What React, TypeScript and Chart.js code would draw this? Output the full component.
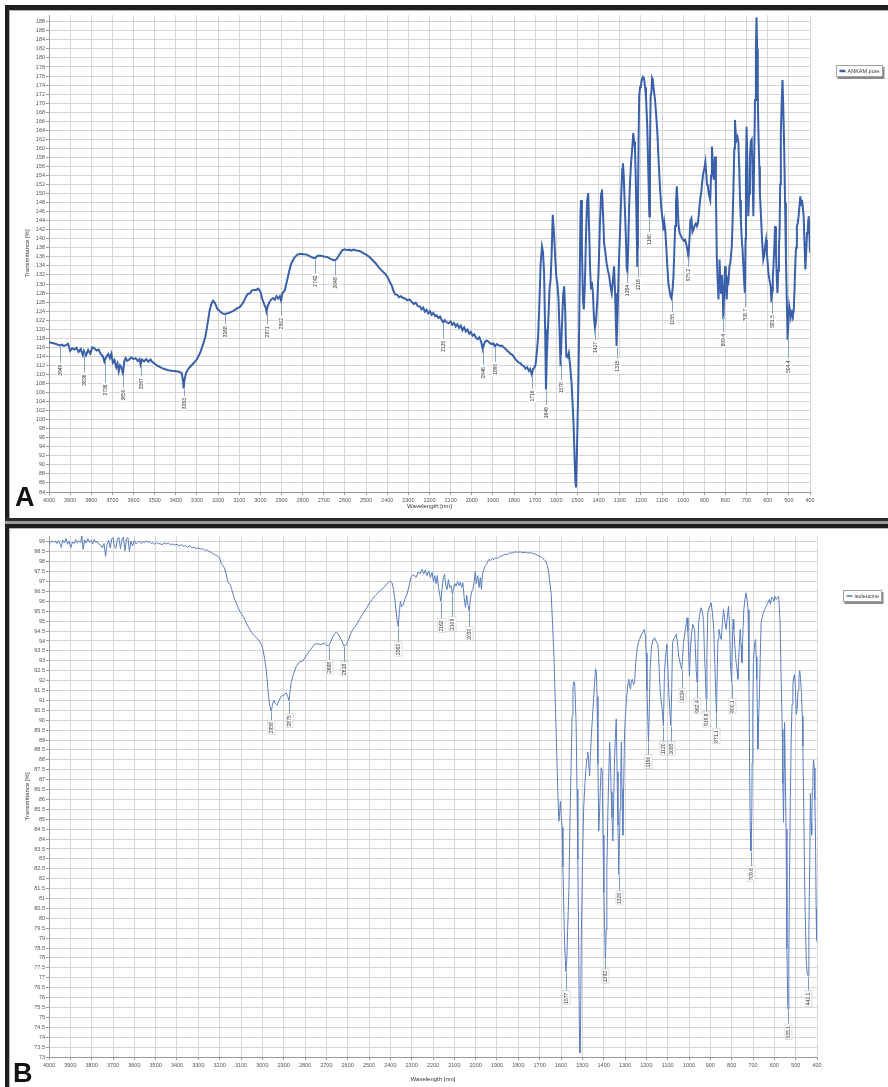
import React, { useEffect, useRef } from "react";
import { Chart, registerables } from "chart.js";

Chart.register(...registerables);

const FONT = "'Liberation Sans', Arial, sans-serif";

// ---------- Panel A: ANKAM pure ----------
const seriesNameA = "ANKAM pure";
const spectrumA: [number, number][] = [
  [4000, 117.2], [3990, 117.0], [3980, 116.9], [3970, 116.8], [3960, 116.6], [3950, 116.4], [3940, 116.6],
  [3930, 116.3], [3920, 116.5], [3910, 116.8], [3905, 116.0], [3900, 115.2], [3890, 115.8], [3880, 115.5],
  [3870, 115.9], [3860, 115.0], [3850, 115.6], [3840, 114.3], [3835, 115.2], [3825, 114.2], [3815, 115.4],
  [3805, 114.6], [3795, 116.0], [3785, 115.8], [3775, 115.3], [3765, 115.5], [3755, 114.5], [3745, 114.0],
  [3738, 112.8], [3730, 113.8], [3720, 114.5], [3712, 113.6], [3705, 114.6], [3698, 112.6], [3690, 113.2],
  [3682, 111.6], [3676, 112.4], [3670, 110.7], [3664, 112.0], [3658, 111.6], [3650, 110.3], [3644, 112.8],
  [3638, 113.6], [3630, 113.0], [3620, 113.3], [3610, 113.8], [3600, 113.4], [3590, 113.6], [3580, 113.0],
  [3572, 113.4], [3567, 112.2], [3560, 113.3], [3550, 112.9], [3540, 113.4], [3530, 112.8], [3520, 113.3],
  [3510, 112.7], [3500, 112.4], [3490, 112.0], [3480, 111.8], [3470, 111.5], [3460, 111.3], [3440, 111.0],
  [3420, 110.8], [3400, 110.7], [3385, 110.6], [3372, 110.3], [3366, 108.5], [3363, 106.9], [3359, 108.8],
  [3352, 110.3], [3340, 111.3], [3320, 112.3], [3300, 113.4], [3285, 114.8], [3270, 116.8], [3260, 118.4],
  [3250, 121.2], [3240, 124.2], [3230, 125.8], [3224, 126.3], [3215, 125.8], [3205, 124.6], [3190, 123.9],
  [3180, 123.5], [3168, 123.4], [3150, 123.6], [3130, 124.0], [3110, 124.6], [3095, 125.0], [3080, 126.0],
  [3070, 127.0], [3060, 127.8], [3050, 127.9], [3040, 128.6], [3030, 128.7], [3020, 128.7], [3010, 129.0],
  [3000, 128.3], [2992, 126.8], [2982, 125.5], [2975, 124.8], [2971, 123.9], [2966, 125.0], [2958, 125.9],
  [2950, 126.5], [2940, 126.9], [2932, 126.5], [2924, 127.3], [2916, 126.8], [2908, 127.3], [2902, 126.3],
  [2896, 128.0], [2885, 128.5], [2875, 130.5], [2865, 132.6], [2855, 134.4], [2840, 135.8], [2825, 136.5],
  [2810, 136.7], [2795, 136.6], [2780, 136.5], [2765, 136.1], [2750, 135.8], [2742, 135.7], [2730, 136.2],
  [2718, 136.3], [2700, 136.1], [2685, 136.0], [2670, 135.6], [2655, 135.3], [2648, 135.2], [2638, 135.6],
  [2625, 136.6], [2612, 137.5], [2600, 137.7], [2590, 137.5], [2580, 137.6], [2570, 137.4], [2560, 137.6],
  [2545, 137.4], [2530, 137.3], [2515, 136.9], [2500, 136.5], [2485, 136.0], [2470, 135.3], [2455, 134.6],
  [2440, 133.7], [2425, 132.9], [2410, 132.3], [2398, 131.5], [2388, 130.5], [2378, 129.6], [2370, 128.4],
  [2362, 127.7], [2352, 127.6], [2344, 127.1], [2335, 127.3], [2325, 126.9], [2315, 126.8], [2305, 126.4],
  [2295, 126.6], [2285, 126.1], [2275, 125.6], [2265, 125.9], [2255, 125.1], [2245, 125.0], [2238, 124.4],
  [2230, 124.8], [2222, 123.9], [2214, 124.3], [2206, 123.5], [2198, 124.0], [2190, 123.2], [2182, 123.6],
  [2174, 122.9], [2166, 123.1], [2158, 122.5], [2150, 122.8], [2143, 122.1], [2135, 121.5], [2128, 122.0],
  [2120, 121.6], [2110, 121.3], [2100, 121.7], [2092, 121.0], [2084, 121.4], [2076, 120.6], [2068, 121.1],
  [2060, 120.3], [2052, 120.8], [2044, 119.8], [2036, 120.4], [2028, 119.5], [2020, 119.9], [2012, 119.0],
  [2004, 119.4], [1996, 118.6], [1988, 118.9], [1980, 118.1], [1972, 117.8], [1964, 118.2], [1956, 117.3],
  [1948, 115.6], [1944, 116.4], [1938, 117.2], [1930, 117.5], [1922, 117.3], [1914, 116.9], [1906, 116.7],
  [1898, 116.9], [1890, 116.2], [1882, 116.7], [1874, 116.5], [1866, 116.3], [1858, 116.4], [1850, 116.1],
  [1842, 115.7], [1834, 115.3], [1826, 115.0], [1818, 114.6], [1810, 114.4], [1802, 114.0], [1794, 113.4],
  [1786, 113.0], [1778, 112.6], [1770, 112.5], [1762, 112.0], [1754, 111.9], [1746, 111.3], [1738, 111.6],
  [1730, 110.8], [1724, 111.2], [1716, 110.0], [1710, 111.2], [1704, 111.5], [1698, 112.2], [1692, 115.0],
  [1686, 118.5], [1680, 126.0], [1674, 134.7], [1668, 138.3], [1663, 137.0], [1658, 132.5], [1653, 120.0],
  [1649, 106.7], [1645, 114.0], [1639, 121.0], [1632, 129.0], [1627, 131.0], [1622, 137.0], [1617, 145.3],
  [1612, 142.0], [1606, 136.5], [1600, 131.5], [1595, 130.0], [1590, 127.0], [1585, 120.0], [1580, 111.8],
  [1574, 120.0], [1568, 127.5], [1563, 129.5], [1558, 124.0], [1553, 114.0], [1547, 113.8], [1541, 114.8],
  [1535, 112.0], [1528, 108.2], [1523, 103.5], [1518, 98.5], [1514, 92.0], [1510, 86.5], [1507, 85.0],
  [1503, 92.0], [1499, 101.0], [1495, 110.0], [1490, 128.0], [1486, 145.0], [1483, 148.6], [1479, 138.0],
  [1474, 126.5], [1470, 124.4], [1465, 130.0], [1459, 142.0], [1454, 148.5], [1449, 150.1], [1445, 142.0],
  [1440, 133.0], [1436, 129.0], [1432, 130.5], [1427, 128.0], [1422, 122.5], [1417, 120.3], [1412, 122.0],
  [1406, 126.5], [1400, 133.0], [1394, 143.0], [1388, 150.0], [1384, 150.9], [1379, 145.5], [1374, 139.0],
  [1368, 137.0], [1362, 134.5], [1356, 133.0], [1350, 131.8], [1344, 129.5], [1338, 128.0], [1332, 131.0],
  [1327, 133.9], [1322, 128.0], [1318, 121.0], [1315, 116.3], [1311, 122.0], [1305, 133.0], [1299, 141.3],
  [1293, 149.5], [1288, 155.5], [1285, 156.7], [1281, 154.0], [1276, 147.0], [1271, 140.5], [1267, 133.5],
  [1264, 132.8], [1260, 138.0], [1256, 146.5], [1251, 153.0], [1246, 157.0], [1241, 160.0], [1236, 163.4],
  [1232, 161.5], [1228, 160.0], [1224, 153.0], [1220, 142.0], [1217, 134.0], [1214, 146.0], [1211, 162.0],
  [1208, 171.5], [1204, 173.5], [1200, 173.8], [1196, 175.1], [1190, 175.8], [1185, 175.5], [1180, 173.5],
  [1176, 171.5], [1170, 165.0], [1165, 155.0], [1160, 145.0], [1157, 160.0], [1154, 171.5], [1150, 172.5],
  [1147, 175.5], [1144, 175.1], [1139, 173.0], [1133, 170.7], [1127, 167.0], [1122, 163.4], [1116, 157.0],
  [1110, 151.6], [1105, 148.0], [1101, 145.7], [1096, 143.5], [1092, 141.8], [1089, 143.5], [1085, 142.0],
  [1080, 138.3], [1075, 134.0], [1070, 130.2], [1065, 128.7], [1060, 127.3], [1055, 126.8], [1050, 129.0],
  [1046, 131.7], [1042, 137.0], [1038, 142.8], [1034, 148.0], [1030, 151.6], [1026, 147.5], [1022, 143.0],
  [1016, 141.2], [1010, 140.6], [1004, 140.0], [998, 139.6], [991, 139.8], [985, 138.8], [980, 137.5],
  [975, 136.1], [970, 140.0], [966, 144.0], [961, 144.5], [956, 141.5], [951, 142.0], [945, 143.0],
  [940, 143.4], [935, 142.8], [930, 143.5], [925, 146.0], [920, 148.6], [914, 150.5], [909, 153.0],
  [905, 154.5], [900, 155.5], [895, 157.0], [891, 154.5], [887, 152.0], [883, 151.6], [879, 150.0],
  [875, 149.2], [872, 148.6], [868, 154.0], [864, 160.4], [860, 157.0], [856, 153.1], [852, 155.0],
  [849, 158.2], [845, 150.0], [841, 136.1], [837, 131.0], [833, 126.6], [830, 131.0], [828, 135.4],
  [825, 131.5], [821, 128.0], [817, 132.0], [813, 128.5], [810, 122.2], [806, 128.0], [802, 133.9],
  [798, 130.0], [794, 126.6], [790, 131.0], [786, 130.5], [781, 133.9], [776, 135.0], [770, 138.3],
  [766, 144.0], [762, 151.6], [758, 160.0], [755, 166.3], [751, 163.0], [747, 161.9], [743, 162.5],
  [739, 161.5], [735, 156.0], [731, 148.6], [727, 144.0], [723, 140.0], [719, 137.6], [714, 133.0],
  [711, 130.0], [708, 128.0], [705, 140.0], [703, 155.0], [700, 164.8], [696, 156.0], [692, 145.0],
  [688, 150.0], [684, 158.2], [680, 161.5], [676, 161.9], [672, 155.0], [668, 145.0], [664, 158.0],
  [660, 170.7], [656, 182.0], [653, 189.0], [650, 182.0], [647, 172.0], [644, 163.4], [640, 156.0],
  [637, 150.1], [632, 145.0], [627, 140.0], [621, 135.4], [616, 136.5], [612, 138.5], [608, 139.8],
  [604, 137.0], [600, 134.5], [597, 132.5], [592, 131.0], [586, 129.5], [582, 126.0], [579, 128.5],
  [576, 131.5], [573, 133.9], [569, 138.0], [565, 142.8], [561, 137.0], [557, 131.0], [554, 128.0],
  [550, 133.0], [547, 138.0], [544, 141.3], [541, 152.0], [538, 163.4], [534, 170.0], [530, 175.1],
  [527, 170.0], [522, 159.7], [518, 148.0], [514, 136.1], [510, 127.0], [506, 117.7], [502, 121.5],
  [498, 125.1], [494, 124.0], [490, 122.9], [485, 123.8], [481, 123.2], [477, 124.0], [473, 129.0],
  [470, 133.9], [466, 138.0], [462, 142.8], [458, 143.5], [454, 145.0], [450, 147.0], [446, 149.4],
  [442, 147.5], [438, 148.6], [434, 147.0], [430, 145.0], [426, 139.0], [422, 133.2], [418, 137.0],
  [414, 141.3], [410, 143.0], [406, 145.0], [402, 140.0], [400, 136.9],
];
const peakWavenumbersA = [3949, 3836, 3736, 3650, 3567, 3363, 3168, 2971, 2902, 2742, 2648, 2135, 1946, 1890,
  1716, 1649, 1578, 1417, 1315, 1264, 1216, 1160, 1055, 975.2, 809.4, 708.7, 581.5, 504.4];
const peakTextsA = ["3949", "3836", "3736", "3650", "3567", "3363", "3168", "2971", "2902", "2742", "2648", "2135",
  "1946", "1890", "1716", "1649", "1578", "1417", "1315", "1264", "1216", "1160", "1055", "975.2", "809.4",
  "708.7", "581.5", "504.4"];
const peakLabelLevelsA = [112.4, 110.2, 108.0, 106.9, 109.4, 105.0, 120.9, 120.9, 122.7, 132.1, 131.7, 117.7,
  111.8, 112.6, 106.7, 103.0, 108.5, 117.4, 113.3, 130.0, 131.3, 141.3, 123.6, 133.6, 119.2, 124.7, 123.3, 113.3];

// ---------- Panel B: isoleucine ----------
const seriesNameB = "isoleucine";
const spectrumB: [number, number][] = [
  [4000, 99.02], [3992, 98.95], [3985, 99.06], [3978, 98.98], [3970, 99.05], [3962, 98.92], [3955, 99.08],
  [3948, 98.90], [3942, 98.72], [3936, 99.10], [3928, 98.96], [3920, 99.18], [3913, 98.88], [3905, 99.04],
  [3898, 98.70], [3890, 99.00], [3882, 98.92], [3875, 99.12], [3868, 98.95], [3860, 99.05], [3852, 98.98],
  [3846, 99.30], [3840, 98.62], [3833, 99.10], [3826, 98.94], [3818, 99.16], [3810, 98.98], [3802, 99.08],
  [3795, 98.90], [3788, 99.12], [3780, 98.96], [3773, 99.02], [3766, 98.88], [3758, 98.84], [3750, 98.70],
  [3742, 98.92], [3735, 98.28], [3728, 98.88], [3720, 99.08], [3713, 98.70], [3706, 99.15], [3700, 99.22],
  [3693, 98.76], [3686, 98.68], [3679, 99.18], [3672, 99.22], [3665, 98.66], [3658, 99.10], [3651, 99.24],
  [3644, 98.55], [3637, 99.15], [3630, 99.22], [3623, 98.52], [3616, 99.05], [3608, 98.80], [3600, 99.08],
  [3592, 98.90], [3584, 98.98], [3576, 99.04], [3568, 98.92], [3560, 99.02], [3552, 98.96], [3544, 99.06],
  [3536, 98.98], [3528, 99.02], [3520, 98.92], [3512, 98.96], [3504, 98.88], [3496, 98.98], [3488, 98.90],
  [3480, 98.92], [3470, 98.86], [3460, 98.96], [3450, 98.90], [3440, 98.94], [3430, 98.86], [3420, 98.90],
  [3410, 98.84], [3400, 98.88], [3390, 98.80], [3380, 98.86], [3370, 98.78], [3360, 98.82], [3350, 98.74],
  [3340, 98.80], [3330, 98.70], [3320, 98.74], [3310, 98.66], [3300, 98.70], [3290, 98.64], [3280, 98.66],
  [3270, 98.58], [3260, 98.60], [3250, 98.52], [3240, 98.48], [3230, 98.40], [3220, 98.34], [3210, 98.28],
  [3200, 98.20], [3192, 97.90], [3185, 97.80], [3178, 97.70], [3170, 97.40], [3162, 96.98], [3153, 96.90],
  [3145, 96.66], [3138, 96.40], [3130, 96.12], [3122, 95.92], [3114, 95.70], [3106, 95.50], [3098, 95.38],
  [3090, 95.24], [3080, 95.02], [3070, 94.80], [3060, 94.60], [3050, 94.42], [3040, 94.30], [3028, 94.16],
  [3016, 94.02], [3005, 93.84], [2997, 93.56], [2989, 93.10], [2981, 92.50], [2974, 91.60], [2968, 90.90],
  [2962, 90.60], [2958, 90.45], [2953, 90.75], [2947, 91.00], [2940, 90.86], [2931, 90.76], [2922, 91.00],
  [2911, 91.22], [2900, 91.26], [2888, 91.38], [2881, 91.20], [2875, 90.98], [2869, 91.55], [2865, 91.90],
  [2855, 92.30], [2841, 92.72], [2825, 92.95], [2810, 93.00], [2795, 93.25], [2778, 93.50], [2765, 93.70],
  [2755, 93.84], [2740, 93.86], [2724, 93.82], [2710, 93.90], [2700, 93.80], [2688, 93.74], [2680, 93.96],
  [2665, 94.30], [2653, 94.46], [2642, 94.30], [2630, 94.06], [2618, 93.76], [2606, 93.82], [2595, 94.10],
  [2585, 94.40], [2575, 94.60], [2560, 94.80], [2544, 95.10], [2530, 95.36], [2515, 95.60], [2497, 95.92],
  [2485, 96.10], [2470, 96.30], [2450, 96.52], [2430, 96.70], [2411, 96.96], [2400, 97.02], [2392, 96.94],
  [2385, 96.60], [2378, 96.00], [2370, 95.20], [2363, 94.72], [2358, 95.40], [2353, 96.00], [2346, 95.72],
  [2340, 95.80], [2333, 96.10], [2322, 96.34], [2312, 96.80], [2302, 97.26], [2290, 97.34], [2280, 97.20],
  [2270, 97.48], [2260, 97.40], [2252, 97.62], [2244, 97.38], [2236, 97.58], [2228, 97.30], [2220, 97.54],
  [2212, 97.20], [2204, 97.46], [2198, 97.00], [2192, 97.30], [2186, 96.90], [2180, 97.30], [2174, 96.70],
  [2168, 96.30], [2163, 96.00], [2158, 96.60], [2152, 97.20], [2146, 97.36], [2140, 96.80], [2134, 96.60],
  [2128, 97.10], [2122, 96.70], [2116, 96.80], [2109, 96.36], [2103, 96.70], [2098, 96.90], [2092, 96.76],
  [2085, 97.00], [2078, 96.80], [2072, 96.96], [2066, 96.70], [2060, 96.94], [2054, 96.20], [2048, 95.70],
  [2042, 96.30], [2036, 95.80], [2030, 95.50], [2025, 96.10], [2019, 96.50], [2013, 96.60], [2007, 97.00],
  [2002, 97.50], [1997, 96.90], [1990, 97.30], [1984, 96.70], [1978, 97.20], [1973, 96.60], [1968, 97.40],
  [1962, 97.60], [1956, 97.80], [1950, 97.86], [1944, 98.00], [1938, 98.12], [1930, 98.06], [1922, 98.18],
  [1914, 98.10], [1906, 98.22], [1898, 98.16], [1888, 98.26], [1876, 98.30], [1864, 98.38], [1852, 98.36],
  [1841, 98.45], [1828, 98.44], [1815, 98.50], [1804, 98.48], [1792, 98.50], [1780, 98.46], [1768, 98.48],
  [1756, 98.44], [1744, 98.46], [1732, 98.42], [1720, 98.38], [1710, 98.32], [1700, 98.28], [1692, 98.24],
  [1685, 98.16], [1678, 98.10], [1670, 98.00], [1664, 97.80], [1658, 97.50], [1652, 96.90], [1646, 96.40],
  [1640, 95.00], [1633, 93.20], [1626, 90.60], [1620, 88.40], [1615, 86.40], [1610, 84.90], [1606, 85.40],
  [1603, 85.90], [1599, 85.20], [1595, 84.60], [1591, 82.60], [1587, 80.50], [1583, 78.70], [1577, 77.30],
  [1573, 77.80], [1569, 79.40], [1563, 81.40], [1557, 85.50], [1552, 88.00], [1548, 90.20], [1544, 91.70],
  [1540, 91.95], [1536, 91.90], [1532, 90.80], [1529, 89.70], [1525, 86.50], [1521, 83.00], [1517, 78.50],
  [1514, 74.50], [1511, 73.20], [1508, 75.00], [1505, 78.80], [1500, 82.40], [1494, 85.50], [1488, 86.80],
  [1482, 87.70], [1478, 88.10], [1474, 88.40], [1470, 87.80], [1466, 87.20], [1462, 88.20], [1458, 89.20],
  [1452, 90.20], [1447, 91.10], [1442, 92.00], [1438, 92.60], [1434, 92.40], [1431, 91.20], [1427, 87.80],
  [1423, 84.40], [1419, 85.40], [1416, 86.40], [1412, 87.60], [1407, 87.50], [1403, 84.20], [1399, 81.30],
  [1392, 77.97], [1388, 79.40], [1385, 82.50], [1380, 85.50], [1376, 87.30], [1372, 88.90], [1368, 87.80],
  [1365, 86.40], [1361, 85.10], [1357, 83.90], [1353, 86.00], [1349, 88.00], [1345, 89.20], [1341, 90.06],
  [1337, 87.40], [1333, 84.70], [1329, 82.20], [1326, 83.90], [1323, 85.50], [1320, 87.10], [1317, 88.90],
  [1314, 86.50], [1310, 84.20], [1306, 86.80], [1302, 89.40], [1298, 90.20], [1294, 90.90], [1288, 91.70],
  [1282, 92.07], [1278, 91.70], [1274, 91.57], [1270, 92.00], [1266, 92.07], [1260, 91.80], [1255, 91.90],
  [1250, 92.90], [1244, 93.50], [1238, 93.90], [1232, 94.08], [1224, 94.30], [1216, 94.45], [1209, 94.59],
  [1204, 94.20], [1201, 93.40], [1197, 91.50], [1190, 88.90], [1186, 90.50], [1182, 92.60], [1176, 93.70],
  [1170, 94.00], [1162, 94.17], [1155, 94.00], [1146, 93.83], [1142, 93.20], [1138, 92.07], [1133, 91.20],
  [1126, 90.60], [1120, 89.72], [1115, 92.40], [1110, 93.20], [1104, 93.83], [1099, 92.60], [1094, 91.23],
  [1090, 90.50], [1085, 89.72], [1081, 91.60], [1077, 93.91], [1072, 94.10], [1066, 94.20], [1060, 94.33],
  [1054, 93.90], [1048, 93.20], [1040, 92.82], [1034, 92.57], [1030, 93.20], [1026, 93.91], [1018, 94.50],
  [1012, 94.95], [1009, 95.17], [1005, 94.50], [1002, 93.50], [998, 92.24], [994, 93.40], [988, 94.40],
  [982, 94.84], [978, 94.70], [974, 94.59], [970, 93.60], [966, 92.50], [962.4, 91.90], [959, 93.30],
  [955, 94.92], [949, 95.40], [943, 95.68], [938, 95.50], [932, 95.09], [928, 93.50], [924, 92.50],
  [919.8, 91.06], [916, 93.20], [912, 95.43], [905, 95.70], [896, 95.93], [890, 95.40], [884, 94.59],
  [878, 92.50], [871.1, 90.31], [867, 92.80], [864, 94.10], [860, 94.59], [855, 94.30], [849, 94.08],
  [844, 94.80], [838, 95.59], [832, 95.00], [826, 94.59], [820, 95.20], [815, 95.76], [810, 94.80],
  [806, 93.00], [800.1, 91.90], [796, 94.20], [793, 95.10], [790, 94.60], [785, 93.75], [780, 93.00],
  [775, 92.60], [771, 92.07], [766, 93.40], [760, 94.59], [756, 93.80], [752, 92.91], [748, 94.20],
  [743, 95.59], [738, 96.10], [732, 96.43], [727, 96.00], [723, 95.59], [719, 92.00], [716, 87.87],
  [713, 84.52], [709.6, 83.40], [706, 85.00], [704, 87.87], [701, 90.50], [698, 92.91], [693, 93.80],
  [688, 94.08], [685, 93.20], [682, 92.07], [679, 90.20], [677, 88.55], [674, 89.80], [670, 91.23],
  [666, 93.20], [662, 94.92], [657, 95.20], [651, 95.43], [645, 95.60], [638, 95.76], [631, 95.90],
  [623, 96.10], [618, 95.85], [613, 96.20], [607, 96.18], [602, 96.00], [597, 96.25], [591, 96.10],
  [585, 96.20], [580, 96.26], [577, 95.80], [573, 94.92], [568, 92.00], [563, 89.55], [560, 86.80],
  [557, 84.85], [554, 87.50], [552, 89.89], [549, 87.50], [545, 84.50], [541, 78.50], [537, 75.60],
  [535.1, 75.40], [532, 78.00], [529, 82.00], [525, 86.00], [521, 89.00], [517, 90.80], [513, 91.80],
  [509, 92.20], [505, 92.30], [501, 91.60], [497, 90.30], [493, 90.60], [489, 91.50], [485, 92.10],
  [481, 92.50], [477, 92.10], [473, 91.40], [469, 90.20], [466, 88.70], [462, 85.50], [458, 82.00],
  [454, 79.50], [450, 77.80], [446, 77.20], [441.1, 77.10], [438, 79.50], [434, 82.70], [431, 86.30],
  [428, 84.80], [425, 84.20], [422, 86.50], [419, 87.40], [416, 88.00], [413, 87.60], [410, 86.00],
  [407, 84.00], [404, 80.50], [402, 79.00], [400, 78.80],
];
const peakWavenumbersB = [2958, 2875, 2688, 2618, 2363, 2163, 2109, 2030, 1577, 1392, 1329, 1190, 1120, 1085,
  1034, 962.4, 919.8, 871.1, 800.1, 709.6, 535.1, 441.1];
const peakTextsB = ["2958", "2875", "2688", "2618", "2363", "2163", "2109", "2030", "1577", "1392", "1329", "1190",
  "1120", "1085", "1034", "962.4", "919.8", "871.1", "800.1", "709.6", "535.1", "441.1"];
const peakLabelLevelsB = [89.95, 90.3, 92.99, 92.9, 93.9, 95.09, 95.17, 94.67, 76.3, 77.39, 81.33, 88.21, 88.88,
  88.88, 91.57, 91.06, 90.39, 89.55, 91.06, 82.59, 74.62, 76.3];

// x axis (wavelength) range shared by both panels
const xMin = 400;
const xMax = 4000;
const xStep = 100;

// ---------- helpers ----------
type Pt = { x: number; y: number };

function valueAt(data: Pt[], x: number): number {
  for (let i = 0; i < data.length - 1; i++) {
    const a = data[i];
    const b = data[i + 1];
    if (a.x >= x && b.x <= x) {
      const t = a.x === b.x ? 0 : (a.x - x) / (a.x - b.x);
      return a.y + (b.y - a.y) * t;
    }
  }
  return data[data.length - 1].y;
}

function stepTicks(min: number, max: number, step: number) {
  const out: { value: number }[] = [];
  const first = Math.ceil(min / step - 1e-9);
  const last = Math.floor(max / step + 1e-9);
  for (let k = first; k <= last; k++) out.push({ value: Math.round(k * step * 1000) / 1000 });
  return out;
}

const peakLabelPlugin = {
  id: "peakLabels",
  afterDatasetsDraw(chart: any, _args: any, opts: any) {
    const { ctx, scales } = chart;
    const xs = scales.x;
    const ys = scales.y;
    const data = chart.data.datasets[0].data as Pt[];
    const list: { x: number; text: string; level: number }[] = opts.peaks || [];
    ctx.save();
    ctx.font = `${opts.fontSize}px ${FONT}`;
    list.forEach((p) => {
      const cy = valueAt(data, p.x);
      const px = Math.round(xs.getPixelForValue(p.x)) + 0.5;
      const py0 = ys.getPixelForValue(cy) + 1;
      const py1 = ys.getPixelForValue(p.level);
      ctx.strokeStyle = opts.lineColor;
      ctx.lineWidth = 1;
      ctx.beginPath();
      ctx.moveTo(px, py0);
      ctx.lineTo(px, py1);
      ctx.stroke();
      const w = ctx.measureText(p.text).width;
      ctx.save();
      ctx.translate(px, py1);
      ctx.rotate(-Math.PI / 2);
      ctx.fillStyle = "rgba(255,255,255,0.9)";
      ctx.fillRect(-w - 2, -3.5, w + 3, 7);
      if (opts.boxColor) {
        ctx.strokeStyle = opts.boxColor;
        ctx.lineWidth = 0.6;
        ctx.strokeRect(-w - 2, -3.5, w + 3, 7);
      }
      ctx.fillStyle = opts.textColor;
      ctx.textAlign = "right";
      ctx.textBaseline = "middle";
      ctx.fillText(p.text, -1, 0);
      ctx.restore();
    });
    ctx.restore();
  },
};

const boxLegendPlugin = {
  id: "boxLegend",
  afterDraw(chart: any, _args: any, opts: any) {
    const { ctx, chartArea } = chart;
    const ds = chart.data.datasets[0];
    ctx.save();
    ctx.font = `${opts.fontSize}px ${FONT}`;
    const tw = ctx.measureText(ds.label).width;
    const x = Math.round(chartArea.right + opts.offsetX) + 0.5;
    const y = Math.round(chartArea.top + opts.offsetY) + 0.5;
    const w = Math.round(tw + 15);
    const h = opts.height;
    ctx.fillStyle = "#8a8a8a";
    ctx.fillRect(x + 1, y + 1.5, w, h);
    ctx.fillStyle = "#ffffff";
    ctx.fillRect(x - 0.5, y - 0.5, w, h);
    ctx.strokeStyle = "#a0a0a0";
    ctx.lineWidth = 1;
    ctx.strokeRect(x, y, w - 1, h - 1);
    ctx.strokeStyle = ds.borderColor;
    ctx.lineWidth = opts.sampleWidth;
    ctx.beginPath();
    ctx.moveTo(x + 3, y + h / 2 - 0.5);
    ctx.lineTo(x + 9, y + h / 2 - 0.5);
    ctx.stroke();
    ctx.fillStyle = "#333333";
    ctx.textBaseline = "middle";
    ctx.textAlign = "left";
    ctx.fillText(ds.label, x + 11, y + h / 2);
    ctx.restore();
  },
};

type PanelCfg = {
  label: string;
  spectrum: [number, number][];
  peakX: number[];
  peakText: string[];
  peakLevel: number[];
  yMin: number;
  yMax: number;
  yStep: number;
  color: string;
  lineWidth: number;
  canvasHeight: number;
  padTop: number;
  padRight: number;
  xAxisHeight: number;
  xTitlePadBottom: number;
  legendOffsetY: number;
  labelLine: string;
  labelBox: string | null;
};

function buildConfig(c: PanelCfg): any {
  const data = c.spectrum.map(([x, y]) => ({ x, y }));
  const peaks = c.peakX.map((x, i) => ({ x, text: c.peakText[i], level: c.peakLevel[i] }));
  const tickFont = { size: 5.5, family: FONT };
  return {
    type: "line",
    data: {
      datasets: [
        {
          label: c.label,
          data,
          borderColor: c.color,
          borderWidth: c.lineWidth,
          pointRadius: 0,
          tension: 0,
          fill: false,
        },
      ],
    },
    options: {
      animation: false,
      responsive: false,
      maintainAspectRatio: false,
      devicePixelRatio: 1,
      parsing: false,
      normalized: true,
      layout: { padding: { left: 0, right: c.padRight, top: c.padTop, bottom: 0 } },
      plugins: {
        legend: { display: false },
        tooltip: { enabled: false },
        peakLabels: {
          peaks,
          fontSize: 5,
          lineColor: c.labelLine,
          textColor: "#333333",
          boxColor: c.labelBox,
        },
        boxLegend: { offsetX: 26, offsetY: c.legendOffsetY, height: 12, fontSize: 5.5, sampleWidth: c.lineWidth + 0.5 },
      },
      scales: {
        x: {
          type: "linear",
          reverse: true,
          min: xMin,
          max: xMax,
          ticks: {
            stepSize: xStep,
            autoSkip: false,
            maxRotation: 0,
            font: tickFont,
            color: "#555555",
            padding: 2,
            callback: (v: number) => String(v),
          },
          afterBuildTicks: (s: any) => {
            s.ticks = stepTicks(xMin, xMax, xStep);
          },
          afterFit: (s: any) => {
            s.height = c.xAxisHeight;
          },
          grid: { color: "#d6d6d6", lineWidth: 1, tickLength: 3, tickColor: "#999999" },
          border: { color: "#9a9a9a", width: 1 },
          title: {
            display: true,
            text: "Wavelength [nm]",
            font: { size: 6, family: FONT },
            color: "#333333",
            padding: { top: 0, bottom: c.xTitlePadBottom },
          },
        },
        y: {
          type: "linear",
          min: c.yMin,
          max: c.yMax,
          ticks: {
            stepSize: c.yStep,
            autoSkip: false,
            font: tickFont,
            color: "#555555",
            padding: 1,
            callback: (v: number) => String(Math.round(v * 10) / 10),
          },
          afterBuildTicks: (s: any) => {
            s.ticks = stepTicks(c.yMin, c.yMax, c.yStep);
          },
          afterFit: (s: any) => {
            s.width = 49;
          },
          grid: { color: "#d6d6d6", lineWidth: 1, tickLength: 3, tickColor: "#999999" },
          border: { color: "#9a9a9a", width: 1 },
          title: {
            display: true,
            text: "Transmittance [%]",
            font: { size: 6, family: FONT },
            color: "#333333",
            padding: { top: 24, bottom: 0 },
          },
        },
      },
    },
    plugins: [peakLabelPlugin, boxLegendPlugin],
  };
}

const panelA: PanelCfg = {
  label: seriesNameA,
  spectrum: spectrumA,
  peakX: peakWavenumbersA,
  peakText: peakTextsA,
  peakLevel: peakLabelLevelsA,
  yMin: 84,
  yMax: 189.5,
  yStep: 2,
  color: "#3a60aa",
  lineWidth: 2,
  canvasHeight: 520,
  padTop: 15,
  padRight: 78,
  xAxisHeight: 28,
  xTitlePadBottom: 10,
  legendOffsetY: 50,
  labelLine: "#8aa3cf",
  labelBox: null,
};

const panelB: PanelCfg = {
  label: seriesNameB,
  spectrum: spectrumB,
  peakX: peakWavenumbersB,
  peakText: peakTextsB,
  peakLevel: peakLabelLevelsB,
  yMin: 73,
  yMax: 99.3,
  yStep: 0.5,
  color: "#5a7ec0",
  lineWidth: 1,
  canvasHeight: 563,
  padTop: 12,
  padRight: 71,
  xAxisHeight: 30,
  xTitlePadBottom: 4.5,
  legendOffsetY: 54,
  labelLine: "#7f9bcc",
  labelBox: "#c8c8c8",
};

function SpectrumCanvas({ cfg, top }: { cfg: PanelCfg; top: number }) {
  const ref = useRef<HTMLCanvasElement>(null);
  useEffect(() => {
    if (!ref.current) return;
    const chart = new Chart(ref.current, buildConfig(cfg));
    return () => chart.destroy();
  }, [cfg]);
  return (
    <canvas
      ref={ref}
      width={888}
      height={cfg.canvasHeight}
      style={{ position: "absolute", left: 0, top, width: 888, height: cfg.canvasHeight }}
    />
  );
}

const bar = (style: React.CSSProperties) => <div style={{ position: "absolute", ...style }} />;

export default function App() {
  const letter: React.CSSProperties = {
    position: "absolute",
    fontFamily: FONT,
    fontWeight: 700,
    fontSize: 27,
    lineHeight: "27px",
    color: "#111",
  };
  return (
    <div style={{ position: "absolute", left: 0, top: 0, width: 888, height: 1087, background: "#ffffff", overflow: "hidden" }}>
      <SpectrumCanvas cfg={panelA} top={0} />
      <SpectrumCanvas cfg={panelB} top={524} />
      {/* panel A frame */}
      {bar({ left: 5, top: 5, width: 883, height: 5, background: "#1f1f1f" })}
      {bar({ left: 9, top: 10, width: 879, height: 1, background: "#b5b5b5" })}
      {bar({ left: 5, top: 5, width: 4, height: 515, background: "#1f1f1f" })}
      {bar({ left: 9, top: 10, width: 1, height: 509, background: "#b5b5b5" })}
      {bar({ left: 5, top: 518, width: 883, height: 3, background: "#2a2a2a" })}
      {/* panel B frame */}
      {bar({ left: 5, top: 521, width: 883, height: 3, background: "#9a9a9a" })}
      {bar({ left: 5, top: 524, width: 883, height: 4, background: "#1f1f1f" })}
      {bar({ left: 9, top: 528, width: 879, height: 1, background: "#b5b5b5" })}
      {bar({ left: 5, top: 524, width: 4, height: 563, background: "#1f1f1f" })}
      {bar({ left: 9, top: 528, width: 1, height: 559, background: "#b5b5b5" })}
      <div style={{ ...letter, left: 15, top: 484 }}>A</div>
      <div style={{ ...letter, left: 13, top: 1060 }}>B</div>
    </div>
  );
}
